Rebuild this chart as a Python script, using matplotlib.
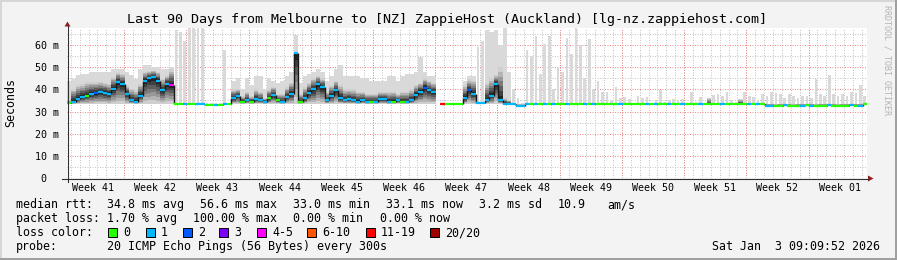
import numpy as np
import matplotlib
matplotlib.use('Agg')
import matplotlib.pyplot as plt
from matplotlib.collections import LineCollection
from matplotlib.patches import Polygon, Rectangle
from matplotlib.lines import Line2D

W, H = 897, 260
plt.rcParams['font.family'] = ['DejaVu Sans Mono', 'DejaVu Sans']

## --- data (one column = half a day) ---
STEP = 0.5
nan = np.nan

median_ms = [
  33.8, 34.5, 35.7, 36.5, 37.2, 38.0, 38.3, 38.8, 38.5, 38.0,
  40.3, 43.3, 42.5, 38.0, 35.0, 34.5, 37.2, 44.0, 45.1, 45.6,
  44.0, 39.5, 42.5, 42.0, 33.6, 33.6, 33.6, 33.6, 33.6, 33.6,
  33.6, 33.1, 33.1, 33.1, 33.1, 33.2, 33.5, 36.0, 37.0, 34.3,
  35.0, 34.3, 35.5, 35.0, 34.3, 36.0, 37.5, 35.0, 34.3, 36.5,
  38.0, 56.6, 34.3, 36.0, 38.5, 40.0, 42.5, 41.0, 35.0, 37.0,
  39.5, 36.0, 35.0, 35.5, 35.0, 34.5, 35.0, 34.3, 34.3, 34.3,
  35.5, 35.5, 34.3, 34.5, 35.0, 34.3, 34.3, 35.0, 37.5, 39.0,
  40.8, 39.5, 38.8, nan,  33.5, 33.5, 33.5, 33.5, 33.5, 36.0,
  39.5, 38.0, 33.8, 33.8, 35.0, 37.0, 42.4, 35.0, 33.6, 33.5,
  33.4, 32.6, 32.6, 33.2, 33.2, 33.2, 33.2, 33.2, 33.2, 33.2,
  33.2, 33.2, 33.2, 33.2, 33.2, 33.2, 33.2, 33.2, 33.2, 33.2,
  33.2, 33.2, 33.2, 33.2, 33.2, 33.2, 33.2, 33.2, 33.2, 33.2,
  33.2, 33.2, 33.2, 33.2, 33.2, 33.2, 33.2, 33.2, 33.2, 33.2,
  33.2, 33.2, 33.2, 33.2, 33.2, 33.2, 33.2, 33.2, 33.2, 33.2,
  33.2, 33.2, 33.2, 33.2, 33.2, 33.2, 33.2, 32.7, 32.7, 32.6,
  32.7, 32.8, 32.7, 32.6, 32.7, 32.7, 32.9, 32.7, 32.6, 32.7,
  32.7, 32.8, 32.7, 32.6, 32.7, 32.7, 32.8, 32.7, 32.7, 33.3,
]

loss_count = [
  0, 1, 1, 1, 0, 1, 2, 1, 1, 1,
  1, 1, 1, 1, 1, 1, 1, 1, 1, 1,
  1, 1, 1, 4, 0, 0, 1, 0, 0, 1,
  1, 0, 0, 1, 0, 1, 0, 1, 1, 0,
  1, 0, 1, 1, 1, 0, 1, 0, 1, 1,
  1, 1, 0, 1, 1, 1, 1, 1, 1, 1,
  1, 1, 1, 1, 1, 1, 1, 1, 0, 1,
  1, 1, 1, 0, 1, 0, 1, 1, 1, 1,
  2, 1, 1, 0, 12, 0, 0, 0, 0, 1,
  2, 1, 1, 1, 1, 1, 1, 1, 1, 1,
  1, 1, 1, 1, 0, 1, 0, 1, 0, 1,
  0, 0, 1, 0, 0, 0, 1, 0, 1, 0,
  0, 0, 0, 0, 1, 0, 0, 0, 0, 0,
  1, 0, 1, 0, 0, 1, 0, 0, 1, 0,
  0, 0, 1, 0, 0, 0, 0, 1, 0, 0,
  0, 0, 0, 1, 0, 1, 0, 1, 1, 0,
  0, 1, 0, 0, 0, 1, 0, 1, 0, 0,
  0, 1, 0, 0, 0, 0, 1, 0, 1, 0,
]

# upper edge of the dense (dark) smoke
smoke_core = [
  35.0, 40.3, 41.8, 42.5, 43.3, 43.3, 43.3, 43.3, 43.0, 42.5,
  45.5, 47.8, 47.0, 41.8, 40.3, 39.5, 42.5, 47.8, 48.5, 48.5,
  47.8, 44.8, 46.3, 49.0, 34.0, 34.0, 34.0, 34.0, 34.0, 34.0,
  34.0, 33.5, 33.5, 33.5, 33.5, 33.5, 34.0, 40.0, 40.0, 37.0,
  39.0, 37.0, 40.0, 39.0, 36.0, 40.0, 41.0, 38.0, 38.0, 41.0,
  43.0, 56.6, 38.0, 41.0, 43.0, 45.0, 46.0, 45.0, 39.0, 42.0,
  44.0, 42.0, 40.0, 40.0, 40.0, 39.0, 39.0, 38.0, 38.0, 38.0,
  39.0, 39.0, 39.0, 39.0, 38.0, 39.0, 39.0, 40.0, 42.0, 43.0,
  45.0, 44.0, 43.0, nan,  nan,  nan,  nan,  nan,  nan,  42.0,
  44.5, 44.0, 34.0, 34.0, 43.0, 45.0, 46.5, 50.0, 36.0, 35.0,
  33.8, 33.4, 33.4, 33.4, 33.4, 33.4, 33.4, 33.4, 33.4, 33.4,
  33.4, 33.4, 33.4, 33.4, 33.4, 33.4, 33.4, 33.4, 33.4, 33.4,
  33.4, 33.4, 33.4, 33.4, 33.4, 33.4, 33.4, 33.4, 33.4, 33.4,
  33.4, 33.4, 33.4, 33.4, 33.4, 33.4, 33.4, 33.4, 33.4, 33.4,
  33.4, 33.4, 33.4, 33.4, 36.0, 33.4, 33.4, 33.4, 33.4, 33.4,
  33.4, 35.5, 33.4, 33.4, 33.4, 33.4, 33.4, 33.4, 33.4, 33.4,
  33.4, 33.4, 33.4, 33.4, 33.4, 33.4, 33.4, 33.4, 33.4, 33.4,
  33.4, 33.4, 33.4, 33.4, 33.4, 33.4, 33.4, 33.4, 33.4, 33.4,
]

# top of the faint smoke (slowest pings)
smoke_max = [
  44.0, 44.8, 46.3, 47.0, 47.0, 47.8, 47.8, 47.8, 48.0, 47.8,
  49.3, 49.3, 49.3, 47.8, 46.3, 44.8, 49.3, 50.8, 50.8, 50.3,
  50.0, 49.3, 49.3, 50.0, 67.0, 66.0, 62.0, 67.7, 67.7, 67.7,
  67.7, 34.0, 34.0, 34.0, 34.0, 57.6, 34.0, 44.0, 45.0, 40.0,
  45.0, 42.0, 46.0, 46.0, 40.0, 45.0, 44.0, 43.0, 44.0, 46.0,
  48.0, 64.5, 43.0, 46.0, 47.0, 48.0, 49.0, 48.0, 44.0, 46.0,
  49.0, 51.0, 46.0, 46.0, 46.0, 46.0, 45.0, 45.0, 44.0, 44.0,
  44.0, 44.0, 46.0, 46.0, 44.0, 46.0, 47.0, 47.0, 48.0, 54.6,
  48.0, 46.0, 46.0, nan,  nan,  nan,  nan,  nan,  nan,  44.0,
  46.0, 46.0, 59.0, 62.0, 67.0, 66.0, 67.0, 60.0, 67.7, 48.0,
  40.0, 36.0, 34.0, 57.7, 55.0, 64.0, 47.0, 60.5, 64.0, 40.0,
  50.0, 48.0, 63.0, 56.0, 67.7, 60.0, 45.0, 62.7, 40.0, 44.0,
  39.0, 39.0, 35.0, 41.0, 36.0, 36.5, 35.5, 34.0, 37.0, 36.0,
  36.5, 34.0, 35.0, 39.7, 34.5, 35.0, 35.5, 35.0, 35.5, 34.0,
  38.8, 34.5, 36.5, 34.0, 36.0, 37.5, 38.0, 37.0, 38.8, 35.0,
  34.5, 35.5, 39.0, 37.0, 36.5, 35.0, 38.0, 37.0, 39.0, 38.5,
  38.0, 36.0, 38.0, 37.0, 36.0, 37.0, 37.0, 36.0, 44.6, 38.0,
  37.0, 46.4, 38.0, 37.0, 38.0, 37.0, 39.0, 38.5, 42.0, 37.0,
]

SMOKE_FLOOR = 33.4  # lower edge of the smoke

week_labels = ['Week 41', 'Week 42', 'Week 43', 'Week 44', 'Week 45', 'Week 46', 'Week 47',
               'Week 48', 'Week 49', 'Week 50', 'Week 51', 'Week 52', 'Week 01']
first_week_start = -0.58   # days from the left edge of the graph
y_ticks = [0, 10, 20, 30, 40, 50, 60]
y_tick_labels = ['0  ', '10 m', '20 m', '30 m', '40 m', '50 m', '60 m']

loss_bins = ['0', '1', '2', '3', '4-5', '6-10', '11-19', '20/20']
loss_colors = ['#26ff00', '#00b8ff', '#0059ff', '#7e00ff', '#ff00ff', '#ff5500', '#ff0000', '#a00000']

title = 'Last 90 Days from Melbourne to [NZ] ZappieHost (Auckland) [lg-nz.zappiehost.com]'
rtt_stats = ['34.8 ms avg', '56.6 ms max', '33.0 ms min', '33.1 ms now', '3.2 ms sd', '10.9', 'am/s']
loss_stats = ['1.70 % avg', '100.00 % max', '0.00 % min', '0.00 % now']
probe_text = '20 ICMP Echo Pings (56 Bytes) every 300s'
stamp_text = 'Sat Jan  3 09:09:52 2026'


def loss_color(n):
  if n <= 3:
    return loss_colors[n]
  if n <= 5:
    return loss_colors[4]
  if n <= 10:
    return loss_colors[5]
  if n <= 19:
    return loss_colors[6]
  return loss_colors[7]


def fx(x):
  return x / W


def fy(y):
  return 1 - y / H


med = np.array(median_ms, dtype=float)
core = np.array(smoke_core, dtype=float)
smax = np.array(smoke_max, dtype=float)
xs = np.arange(len(med)) * STEP

fig = plt.figure(figsize=(W / 100, H / 100), dpi=100)
fig.patch.set_facecolor('#f3f3f3')

left, right, top, bottom = 67, 867, 28, 178
ax = fig.add_axes([fx(left), fy(bottom), (right - left) / W, (bottom - top) / H])
ax.set_facecolor('white')
ax.set_xlim(0, 90)
ax.set_ylim(0, 67.7)
for s in ax.spines.values():
  s.set_visible(False)

# grid
days = first_week_start + np.arange(0, 92)
days = days[(days > 0) & (days < 90)]
week_starts = first_week_start + 7 * np.arange(len(week_labels))
for d in days:
  ax.axvline(d, color='#c4c4c4', lw=0.72, ls=(0, (1, 1.5)), zorder=0.5)
for v in range(5, 68, 10):
  ax.axhline(v, color='#c4c4c4', lw=0.72, ls=(0, (1, 1.5)), zorder=0.5)
for d in week_starts[week_starts > 0]:
  ax.axvline(d, color='#f08a8a', lw=0.72, ls=(0, (1, 1.5)), zorder=0.6)
for v in y_ticks[1:]:
  ax.axhline(v, color='#f08a8a', lw=0.72, ls=(0, (1, 1.5)), zorder=0.6)

# smoke: faint outer pings (solid where there is a dense core, thin streaks otherwise)
ok = ~np.isnan(smax)
lo = np.minimum(med, SMOKE_FLOOR)
dense = ok & ~np.isnan(core) & (core - lo > 1.0)
sparse = ok & ~dense
ax.bar(xs[dense], (smax - lo)[dense], bottom=lo[dense], width=STEP, align='edge',
       color='#d9d9d9', linewidth=0, antialiased=False, zorder=1)
ax.bar(xs[sparse] + STEP * 0.2, (smax - lo)[sparse], bottom=lo[sparse], width=STEP * 0.6,
       align='edge', color='#d9d9d9', linewidth=0, antialiased=False, zorder=1)
shades = ['#cfcfcf', '#b4b4b4', '#989898', '#7c7c7c', '#5e5e5e', '#404040', '#222222']
n = len(shades)
okc = ~np.isnan(core) & ~np.isnan(med)
for k, c in enumerate(shades):
  f = 1 - k / n
  b = med - (med - lo) * f
  t = med + np.maximum(core - med, 0) * f
  h = t - b
  m = okc & (h > 0.05)
  ax.bar(xs[m], h[m], bottom=b[m], width=STEP, align='edge',
         color=c, linewidth=0, antialiased=False, zorder=1.1 + k * 0.01)

# median line, coloured by loss; jumps between columns drawn dark
segs, cols = [], []
jumps = []
for i in range(len(med)):
  if np.isnan(med[i]):
    continue
  segs.append([(xs[i], med[i]), (xs[i] + STEP, med[i])])
  cols.append(loss_color(loss_count[i]))
  if i > 0 and not np.isnan(med[i - 1]):
    jumps.append([(xs[i], med[i - 1]), (xs[i], med[i])])
ax.add_collection(LineCollection(jumps, colors='#181818', linewidths=1.0, zorder=2.9))
ax.add_collection(LineCollection(segs, colors=cols, linewidths=1.6, zorder=3, capstyle='butt'))

# ticks
ax.set_xticks(week_starts + 3.5)
ax.set_xticklabels(week_labels, fontsize=7.2)
ax.set_yticks(y_ticks)
ax.set_yticklabels(y_tick_labels, fontsize=7.2)
ax.tick_params(axis='x', length=0, pad=3.6, colors='#000000')
ax.tick_params(axis='y', length=0, pad=6.0, colors='#000000')
ax.minorticks_off()

# axis lines with arrows
fig.add_artist(Line2D([fx(67.5), fx(67.5)], [fy(182), fy(26)], color='#303030', lw=0.8))
fig.add_artist(Line2D([fx(62), fx(868)], [fy(178.5), fy(178.5)], color='#303030', lw=0.8))
fig.add_artist(Polygon([(fx(64.5), fy(26.5)), (fx(70.5), fy(26.5)), (fx(67.5), fy(21.5))],
                       closed=True, color='#902020', lw=0))
fig.add_artist(Polygon([(fx(868), fy(175.5)), (fx(868), fy(181.5)), (fx(873.5), fy(178.5))],
                       closed=True, color='#902020', lw=0))

# texts
fig.text(fx(446.5), fy(19), title, ha='center', va='center', fontsize=9.6, color='#000000')
fig.text(fx(11), fy(103), 'Seconds', rotation=90, ha='center', va='center', fontsize=8.4)
fig.text(fx(887), fy(5), 'RRDTOOL / TOBI OETIKER', rotation=-90, ha='center', va='top',
         fontsize=6.0, color='#b4b4b4')

fs = 8.4
rows = [204.5, 218.5, 232.5, 246.5]
fig.text(fx(16), fy(rows[0]), 'median rtt:', va='center', fontsize=fs)
for txt, x in zip(rtt_stats, [107, 200, 293, 386, 479, 558, 607]):
  fig.text(fx(x), fy(rows[0]), txt, va='center', fontsize=fs)
fig.text(fx(16), fy(rows[1]), 'packet loss:', va='center', fontsize=fs)
for txt, x in zip(loss_stats, [107, 193, 293, 380]):
  fig.text(fx(x), fy(rows[1]), txt, va='center', fontsize=fs)
fig.text(fx(16), fy(rows[2]), 'loss color:', va='center', fontsize=fs)
box_x = [108, 146, 183, 219, 257, 307, 366, 430]
for lab, col, bx in zip(loss_bins, loss_colors, box_x):
  fig.add_artist(Rectangle((fx(bx), fy(rows[2] + 4.5)), 9 / W, 9 / H, facecolor=col,
                           edgecolor='#000000', lw=0.7))
  fig.text(fx(bx + 15), fy(rows[2]), lab, va='center', fontsize=fs)
fig.text(fx(16), fy(rows[3]), 'probe:', va='center', fontsize=fs)
fig.text(fx(107), fy(rows[3]), probe_text, va='center', fontsize=fs)
fig.text(fx(880), fy(rows[3]), stamp_text, ha='right', va='center', fontsize=fs)

# 3d frame
fig.add_artist(Rectangle((0, 0), 1, 2 / H, color='#a0a0a0', lw=0))
fig.add_artist(Rectangle((1 - 2 / W, 0), 2 / W, 1, color='#a0a0a0', lw=0))
fig.add_artist(Rectangle((0, 1 - 2 / H), 1 - 2 / W, 2 / H, color='#d6d6d6', lw=0))
fig.add_artist(Rectangle((0, 2 / H), 2 / W, 1 - 4 / H, color='#d6d6d6', lw=0))

fig.savefig('out.png', dpi=100, facecolor=fig.get_facecolor())
